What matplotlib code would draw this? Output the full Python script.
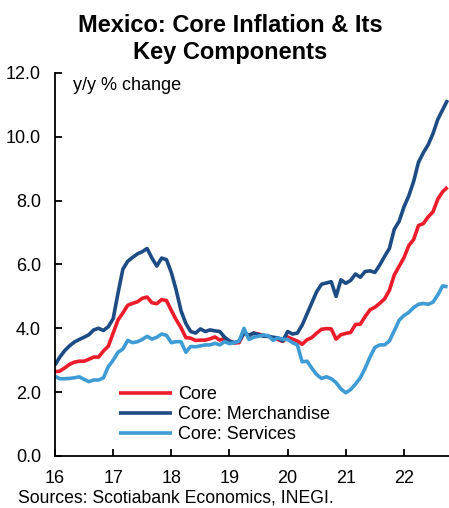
import numpy as np
import pandas as pd
import matplotlib
matplotlib.use("Agg")
import matplotlib.pyplot as plt

plt.rcParams['font.family'] = ['Liberation Sans', 'DejaVu Sans']

# monthly y/y % change, Jan 2016 - Oct 2022
dates = pd.date_range("2016-01-01", "2022-10-01", freq="MS")

core = [2.64, 2.66, 2.76, 2.87, 2.94, 2.97, 2.97, 3.03, 3.10, 3.10, 3.29, 3.44,
        3.85, 4.26, 4.48, 4.72, 4.78, 4.83, 4.94, 4.98, 4.80, 4.77, 4.90, 4.87,
        4.56, 4.27, 4.02, 3.71, 3.69, 3.62, 3.63, 3.63, 3.67, 3.73, 3.63, 3.68,
        3.60, 3.54, 3.55, 3.87, 3.77, 3.85, 3.82, 3.78, 3.75, 3.68, 3.65, 3.59,
        3.73, 3.66, 3.60, 3.50, 3.64, 3.71, 3.85, 3.97, 3.99, 3.98, 3.66, 3.80,
        3.84, 3.87, 4.12, 4.13, 4.37, 4.58, 4.66, 4.78, 4.92, 5.19, 5.67, 5.94,
        6.21, 6.59, 6.78, 7.22, 7.28, 7.49, 7.65, 8.05, 8.28, 8.42]

merchandise = [2.85, 3.10, 3.30, 3.45, 3.57, 3.65, 3.72, 3.80, 3.95, 4.00, 3.93, 4.05,
               4.30, 5.10, 5.85, 6.10, 6.22, 6.33, 6.40, 6.50, 6.20, 5.95, 6.20, 6.15,
               5.75, 5.20, 4.55, 4.15, 3.90, 3.85, 3.98, 3.90, 3.95, 3.92, 3.90, 3.72,
               3.60, 3.55, 3.60, 3.85, 3.78, 3.85, 3.80, 3.75, 3.75, 3.72, 3.70, 3.60,
               3.90, 3.82, 3.85, 4.10, 4.45, 4.80, 5.15, 5.38, 5.42, 5.46, 5.00, 5.52,
               5.41, 5.50, 5.70, 5.60, 5.78, 5.80, 5.75, 5.98, 6.25, 6.50, 7.10, 7.35,
               7.80, 8.15, 8.60, 9.20, 9.50, 9.75, 10.10, 10.55, 10.85, 11.15]

services = [2.50, 2.42, 2.42, 2.43, 2.45, 2.48, 2.40, 2.33, 2.38, 2.38, 2.45, 2.80,
            3.00, 3.25, 3.35, 3.62, 3.55, 3.58, 3.65, 3.75, 3.66, 3.72, 3.82, 3.78,
            3.55, 3.58, 3.58, 3.25, 3.43, 3.42, 3.45, 3.48, 3.48, 3.53, 3.48, 3.58,
            3.52, 3.55, 3.60, 4.00, 3.65, 3.72, 3.75, 3.79, 3.77, 3.62, 3.70, 3.66,
            3.65, 3.55, 3.48, 2.95, 2.97, 2.75, 2.55, 2.43, 2.48, 2.42, 2.30, 2.10,
            1.98, 2.08, 2.25, 2.45, 2.75, 3.10, 3.40, 3.48, 3.48, 3.60, 3.92, 4.25,
            4.40, 4.50, 4.65, 4.75, 4.78, 4.75, 4.82, 5.05, 5.33, 5.30]

year_ticks = [2016, 2017, 2018, 2019, 2020, 2021, 2022]
year_labels = ['16', '17', '18', '19', '20', '21', '22']

# decimal year for each month
x = dates.year + (dates.month - 1) / 12.0

fig = plt.figure(figsize=(4.49, 5.08), dpi=100)
ax = fig.add_axes([0.1225, 0.1024, 0.8775, 0.754])

lw = 2.6
ax.plot(x, core, color='#ec1c2b', lw=lw, label='Core', solid_capstyle='butt')
ax.plot(x, merchandise, color='#1d4c84', lw=lw, label='Core: Merchandise', solid_capstyle='butt')
ax.plot(x, services, color='#3e9bd3', lw=lw, label='Core: Services', solid_capstyle='butt')

ax.set_xlim(2016, 2016 + 81.3 / 12)
ax.set_ylim(0, 12)
ax.set_yticks(np.arange(0, 12.1, 2))
ax.set_yticklabels([f"{v:.1f}" for v in np.arange(0, 12.1, 2)])
ax.set_xticks(year_ticks)
ax.set_xticklabels(year_labels)

for s in ['top', 'right']:
    ax.spines[s].set_visible(False)
for s in ['left', 'bottom']:
    ax.spines[s].set_linewidth(1.3)
    ax.spines[s].set_color('black')

ax.tick_params(axis='y', direction='in', length=5, width=1.3, pad=10, labelsize=13)
ax.tick_params(axis='x', direction='in', length=5, width=1.3, pad=10, labelsize=13)

ax.text(0.046, 0.99, 'y/y % change', transform=ax.transAxes,
        ha='left', va='top', fontsize=13)

ax.legend(loc='upper left', bbox_to_anchor=(0.163, 0.182), frameon=False,
          fontsize=13, handlelength=2.95, handletextpad=0.33, labelspacing=0.17,
          borderpad=0, borderaxespad=0)

fig.text(0.513, 0.972, 'Mexico: Core Inflation & Its\nKey Components',
         ha='center', va='top', fontsize=17, fontweight='bold', linespacing=1.2)
fig.text(0.04, 0.003, 'Sources: Scotiabank Economics, INEGI.',
         ha='left', va='bottom', fontsize=12.7)

fig.savefig('out.png', dpi=100)
